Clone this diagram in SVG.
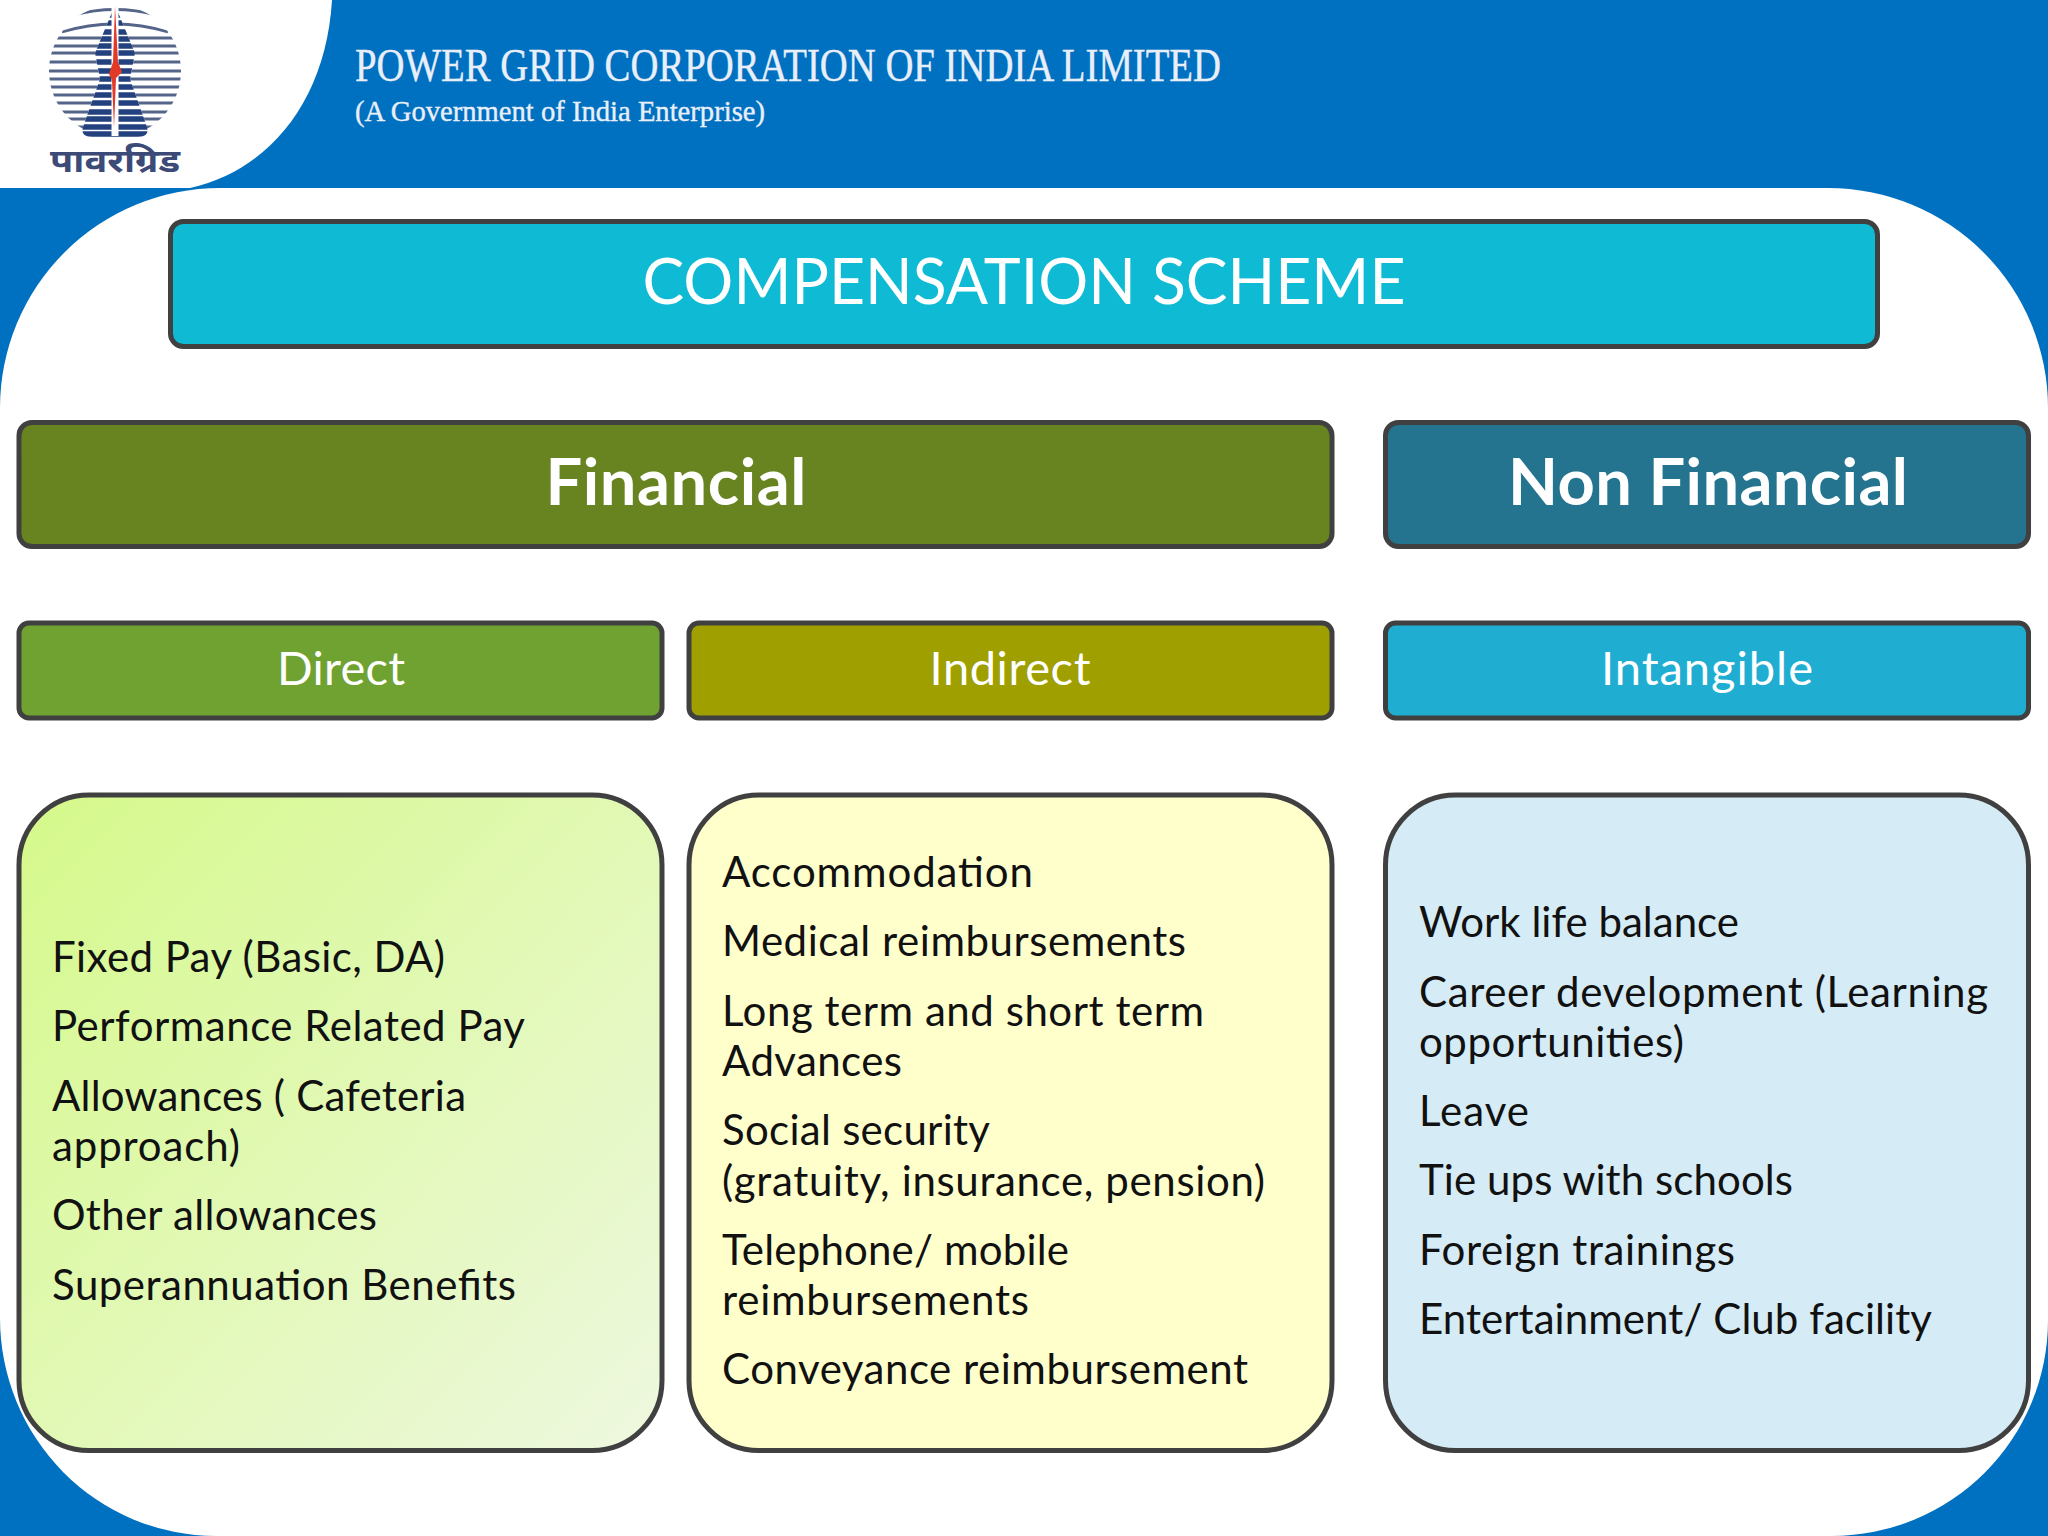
<svg xmlns="http://www.w3.org/2000/svg" width="2048" height="1536" viewBox="0 0 2048 1536">
<style>
.b{stroke:#404040;stroke-width:5}
.t{font-family:"Lato","Open Sans",sans-serif;fill:#fff;text-anchor:middle}
.h{font-size:65px;font-weight:700}
.s{font-size:47px}
.l{font-family:"Lato","Open Sans",sans-serif;font-size:42px;fill:#111}
.hd{font-family:"Liberation Serif",serif;fill:#e9eff9;stroke:#e9eff9;stroke-width:.4}
.st{stroke:#55658a;stroke-width:2.8;fill:none}
</style>
<defs>
<linearGradient id="g" x1="0" y1="0" x2="1" y2="1"><stop offset="0" stop-color="#d5f98a"/><stop offset="1" stop-color="#eef8e0"/></linearGradient>
<clipPath id="c"><circle cx="115" cy="71" r="66"/></clipPath>
<clipPath id="tw"><path d="M115 5L135 53L130 79L147 127Q150 137 138 137H92Q80 137 83 127L100 79L95 53Z"/></clipPath>
</defs>
<rect width="2048" height="1536" fill="#0070c0"/>
<path d="M220 188H1828A220 220 0 0 1 2048 408V1320A216 216 0 0 1 1832 1536H216A216 218 0 0 1 0 1318V408A220 220 0 0 1 220 188Z" fill="#fff"/>
<g id="logo">
<path d="M0 0H332C326 100 270 170 190 188H0Z" fill="#fff"/>
<g clip-path="url(#c)" class="st">
<path d="M74 15Q115 4 156 15M62 32Q115 16 168 32M40 38H190M40 46H190M40 53H190M40 62H190M40 71H190M40 79H190M40 87H190M40 95H190M40 103H190M40 112H190M40 119H190M40 127H190"/>
</g>
<g clip-path="url(#tw)">
<rect x="78" y="0" width="74" height="140" fill="#fff"/>
<path d="M80 15H150M80 23H150M80 32H150M80 39H150M80 46H150M80 53H150M80 62H150M80 71H150M80 79H150M80 87H150M80 95H150M80 103H150M80 112H150M80 119H150M80 127H150M80 134H150" stroke="#23407f" stroke-width="5.500" fill="none"/>
</g>
<path d="M115 4V136" stroke="#fff" stroke-width="7"/>
<path d="M115 6L118 62L122 72L116 78L114 128L112 80L109 74L113 62Z" fill="#e23a26"/>
<text x="115" y="172" text-anchor="middle" font-family="Noto Sans,DejaVu Sans,sans-serif" font-size="32" font-weight="700" fill="#3c4a78" textLength="130" lengthAdjust="spacingAndGlyphs">पावरग्रिड</text>
</g>
<g id="header">
<text class="hd" x="355" y="81" font-size="46" textLength="866" lengthAdjust="spacingAndGlyphs">POWER GRID CORPORATION OF INDIA LIMITED</text>
<text class="hd" x="355" y="121" font-size="30" textLength="410" lengthAdjust="spacingAndGlyphs">(A Government of India Enterprise)</text>
</g>
<g id="title"><rect class="b" x="170.500" y="221.500" width="1707" height="125" rx="13" fill="#0fbbd4"/><text class="t" x="1024" y="304" font-size="64" textLength="763" lengthAdjust="spacingAndGlyphs">COMPENSATION SCHEME</text></g>
<g id="financial"><rect class="b" x="19" y="422.500" width="1313" height="124" rx="13" fill="#678421"/><text class="t h" x="676" y="505" textLength="261">Financial</text></g>
<g id="nonfinancial"><rect class="b" x="1385.500" y="422.500" width="643" height="124" rx="13" fill="#24748f"/><text class="t h" x="1708" y="505" textLength="400">Non Financial</text></g>
<g id="direct"><rect class="b" x="19" y="623" width="643" height="95" rx="10" fill="#70a232"/><text class="t s" x="341" y="685" textLength="128">Direct</text></g>
<g id="indirect"><rect class="b" x="689" y="623" width="643" height="95" rx="10" fill="#9f9f00"/><text class="t s" x="1010" y="685" textLength="161">Indirect</text></g>
<g id="intangible"><rect class="b" x="1385.500" y="623" width="643" height="95" rx="10" fill="#1faed2"/><text class="t s" x="1707" y="685" textLength="212">Intangible</text></g>
<g id="direct-list"><rect class="b" x="19" y="795" width="643" height="655.500" rx="70" fill="url(#g)"/>
<text class="l" x="52" y="972" textLength="393">Fixed Pay (Basic, DA)</text>
<text class="l" x="52" y="1041" textLength="473">Performance Related Pay</text>
<text class="l" x="52" y="1111" textLength="414">Allowances ( Cafeteria</text>
<text class="l" x="52" y="1161" textLength="188">approach)</text>
<text class="l" x="52" y="1230" textLength="325">Other allowances</text>
<text class="l" x="52" y="1300" textLength="464">Superannuation Benefits</text></g>
<g id="indirect-list"><rect class="b" x="689" y="795" width="643" height="655.500" rx="70" fill="#ffffcc"/>
<text class="l" x="722" y="887" textLength="311">Accommodation</text>
<text class="l" x="722" y="956" textLength="464">Medical reimbursements</text>
<text class="l" x="722" y="1026" textLength="482">Long term and short term</text>
<text class="l" x="722" y="1076" textLength="180">Advances</text>
<text class="l" x="722" y="1145" textLength="268">Social security</text>
<text class="l" x="722" y="1196" textLength="543">(gratuity, insurance, pension)</text>
<text class="l" x="722" y="1265" textLength="347">Telephone/ mobile</text>
<text class="l" x="722" y="1315" textLength="307">reimbursements</text>
<text class="l" x="722" y="1384" textLength="526">Conveyance reimbursement</text></g>
<g id="intangible-list"><rect class="b" x="1385.500" y="795" width="643" height="655.500" rx="70" fill="#d5ebf5"/>
<text class="l" x="1419" y="937" textLength="320">Work life balance</text>
<text class="l" x="1419" y="1007" textLength="569">Career development (Learning</text>
<text class="l" x="1419" y="1057" textLength="265">opportunities)</text>
<text class="l" x="1419" y="1126" textLength="110">Leave</text>
<text class="l" x="1419" y="1195" textLength="374">Tie ups with schools</text>
<text class="l" x="1419" y="1265" textLength="316">Foreign trainings</text>
<text class="l" x="1419" y="1334" textLength="513">Entertainment/ Club facility</text></g>
<g id="connectors"/>
</svg>
